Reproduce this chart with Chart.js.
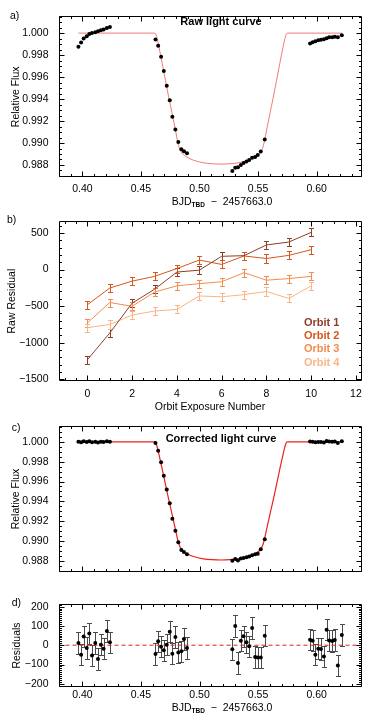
<!DOCTYPE html>
<html><head><meta charset="utf-8">
<script src="https://cdn.jsdelivr.net/npm/chart.js@4.4.1/dist/chart.umd.min.js"></script>
<style>
html,body{margin:0;padding:0;background:#fff;}
#wrap{position:relative;width:374px;height:720px;overflow:hidden;background:#fff;}
canvas{position:absolute;left:0;}
</style></head><body>
<div id="wrap">
<canvas id="ca" width="374" height="212" style="top:0px;width:374px;height:212px"></canvas>
<canvas id="cb" width="374" height="210" style="top:205px;width:374px;height:210px"></canvas>
<canvas id="cc" width="374" height="178" style="top:410px;width:374px;height:178px"></canvas>
<canvas id="cd" width="374" height="132" style="top:588px;width:374px;height:132px"></canvas>
</div>
<script>
// ---------------- DATA ----------------
const timeBJD = [
  0.3966, 0.3989, 0.4011, 0.4037, 0.4059, 0.4082, 0.4110, 0.4133, 0.4158, 0.4181, 0.4209, 0.4235,
  0.4624, 0.4647, 0.4672, 0.4695, 0.4720, 0.4746, 0.4768, 0.4794, 0.4819, 0.4845, 0.4867, 0.4893,
  0.5280, 0.5305, 0.5328, 0.5353, 0.5376, 0.5401, 0.5424, 0.5449, 0.5475, 0.5497, 0.5523, 0.5557,
  0.5944, 0.5966, 0.5989, 0.6014, 0.6037, 0.6062, 0.6085, 0.6107, 0.6133, 0.6155, 0.6181, 0.6215
];
const rawFlux = [
  0.99877, 0.99914, 0.99951, 0.99971, 0.99991, 1.00000, 1.00009, 1.00017, 1.00026, 1.00034, 1.00046, 1.00055,
  0.99943, 0.99885, 0.99785, 0.99656, 0.99521, 0.99389, 0.99239, 0.99124, 0.99010, 0.98944, 0.98924, 0.98906,
  0.98745, 0.98774, 0.98780, 0.98800, 0.98817, 0.98832, 0.98846, 0.98866, 0.98872, 0.98892, 0.98923, 0.99033,
  0.99905, 0.99917, 0.99925, 0.99934, 0.99940, 0.99945, 0.99954, 0.99963, 0.99963, 0.99966, 0.99963, 0.99980
];
const corrFlux = [
  1.00001, 0.99995, 1.00005, 0.99999, 1.00006, 0.99995, 1.00001, 0.99993, 1.00000, 0.99998, 1.00007, 1.00002,
  0.99988, 0.99910, 0.99794, 0.99658, 0.99519, 0.99380, 0.99223, 0.99104, 0.98988, 0.98910, 0.98890, 0.98867,
  0.98800, 0.98817, 0.98803, 0.98823, 0.98829, 0.98835, 0.98843, 0.98855, 0.98867, 0.98872, 0.98916, 0.99017,
  1.00003, 1.00002, 0.99995, 0.99998, 0.99998, 0.99994, 1.00008, 1.00003, 1.00002, 1.00003, 0.99989, 1.00005
];
const residuals = [
  12, -50, 45, -15, 61, -53, 12, -71, 3, -18, 74, 15,
  -46, 20, -8, -26, 2, 70, -44, 43, -38, -31, 32, -15,
  -21, 99, -92, 23, 46, 15, -6, 89, -61, -64, -64, 49,
  28, 23, -49, -18, -20, -59, 80, 25, 22, 27, -105, 53
];
const residErr = [
  55, 55, 55, 55, 55, 55, 55, 55, 55, 55, 55, 55,
  55, 55, 55, 55, 55, 55, 55, 55, 55, 55, 55, 55,
  55, 55, 55, 55, 55, 55, 55, 55, 55, 55, 55, 55,
  55, 55, 55, 55, 55, 55, 55, 55, 55, 55, 55, 55
];
const modelTime = [0.3966, 0.4619, 0.4633, 0.4653, 0.4681, 0.4709, 0.4737, 0.4766, 0.4794, 0.4814, 0.4831,
  0.4850, 0.4893, 0.4949, 0.5034, 0.5109, 0.5184, 0.5259, 0.5333, 0.5418, 0.5474, 0.5517, 0.5536, 0.5553,
  0.5573, 0.5601, 0.5630, 0.5658, 0.5686, 0.5714, 0.5734, 0.5748, 0.6215];
const modelFlux = [1.00000, 1.00000, 0.99971, 0.99877, 0.99727, 0.99572, 0.99417, 0.99268, 0.99119, 0.99010, 0.98946,
  0.98909, 0.98872, 0.98843, 0.98820, 0.98811, 0.98808, 0.98811, 0.98820, 0.98843, 0.98872, 0.98909, 0.98946, 0.99010,
  0.99119, 0.99268, 0.99417, 0.99572, 0.99727, 0.99877, 0.99971, 1.00000, 1.00000];

const exposureNum = [0, 1, 2, 3, 4, 5, 6, 7, 8, 9, 10];
const orbit1 = [-1232, -867, -459, -270, -35, -9, 180, 189, 335, 375, 506];
const orbit2 = [-481, -253, -159, -94, 13, 129, 69, 185, 150, 193, 270];
const orbit3 = [-730, -451, -502, -309, -223, -193, -167, -43, -146, -124, -94];
const orbit4 = [-794, -751, -622, -567, -545, -361, -373, -343, -300, -395, -223];
const orbitErr = [55, 55, 55, 55, 55, 55, 55, 55, 55, 55, 55];
const orbitNames = ['Orbit 1', 'Orbit 2', 'Orbit 3', 'Orbit 4'];

const timeTicks = [0.40, 0.45, 0.50, 0.55, 0.60];
const fluxTicks = [0.988, 0.990, 0.992, 0.994, 0.996, 0.998, 1.000];
const expTicks = [0, 2, 4, 6, 8, 10, 12];
const rawResTicks = [-1500, -1000, -500, 0, 500];
const residTicks = [-200, -100, 0, 100, 200];

// ---------------- STYLE ----------------
const FONT = "'Liberation Sans', Arial, Helvetica, sans-serif";
const orbitColors = ['#8e3d27', '#d5561e', '#f38c4e', '#f8b585'];
const TIME_MIN = 0.3796, TIME_MAX = 0.6383;

const minus = v => String(v).replace('-', '\u2212');
const pts = (xs, ys) => xs.map((x, i) => ({x: x, y: ys[i]}));

const framePlugin = {
  id: 'frame',
  afterDraw(chart, args, o) {
    const {ctx, chartArea: a} = chart;
    const xs = chart.scales.x, ys = chart.scales.y;
    const L = Math.round(a.left) + 0.5, R = Math.round(a.right) - 0.5;
    const T = Math.round(a.top) + 0.5, B = Math.round(a.bottom) - 0.5;
    ctx.save();
    ctx.strokeStyle = '#000'; ctx.lineWidth = 1;
    ctx.beginPath();
    ctx.rect(L, T, R - L, B - T);
    const xt = (v, len) => { const p = Math.round(xs.getPixelForValue(v)) + 0.5; if (p < L - 0.2 || p > R + 0.2) return;
      ctx.moveTo(p, B); ctx.lineTo(p, B - len); ctx.moveTo(p, T); ctx.lineTo(p, T + len); };
    const yt = (v, len) => { const p = Math.round(ys.getPixelForValue(v)) + 0.5; if (p < T - 0.2 || p > B + 0.2) return;
      ctx.moveTo(L, p); ctx.lineTo(L + len, p); ctx.moveTo(R, p); ctx.lineTo(R - len, p); };
    for (let k = Math.ceil(xs.min / o.xMinor - 1e-9); k * o.xMinor <= xs.max + 1e-12; k++) xt(k * o.xMinor, o.minorLen);
    for (let k = Math.ceil(ys.min / o.yMinor - 1e-9); k * o.yMinor <= ys.max + 1e-12; k++) yt(k * o.yMinor, o.minorLen);
    xs.ticks.forEach(t => xt(t.value, o.majorLen));
    ys.ticks.forEach(t => yt(t.value, o.majorLen));
    ctx.stroke();
    ctx.restore();
  }
};

const errPlugin = {
  id: 'errBars',
  beforeDatasetsDraw(chart) {
    const {ctx} = chart; const ys = chart.scales.y;
    chart.data.datasets.forEach((ds, i) => {
      if (!ds.errors) return;
      const meta = chart.getDatasetMeta(i);
      ctx.save();
      ctx.strokeStyle = ds.errorColor || ds.borderColor; ctx.lineWidth = 1;
      ctx.beginPath();
      const cap = ds.capWidth || 2.5;
      meta.data.forEach((el, j) => {
        const v = ds.data[j].y, e = ds.errors[j];
        const x = Math.round(el.x) + 0.5;
        const y1 = Math.round(ys.getPixelForValue(v - e)) + 0.5, y2 = Math.round(ys.getPixelForValue(v + e)) + 0.5;
        ctx.moveTo(x, y1); ctx.lineTo(x, y2);
        ctx.moveTo(x - cap, y1); ctx.lineTo(x + cap, y1);
        ctx.moveTo(x - cap, y2); ctx.lineTo(x + cap, y2);
      });
      ctx.stroke();
      ctx.restore();
    });
  }
};

const textPlugin = {
  id: 'texts',
  afterDraw(chart, args, o) {
    const ctx = chart.ctx;
    (o.items || []).forEach(it => {
      ctx.save();
      ctx.textBaseline = 'middle';
      ctx.fillStyle = it.color || '#000';
      if (it.parts) {
        let w = 0;
        it.parts.forEach(p => { ctx.font = p.font; w += ctx.measureText(p.text).width; });
        let x = it.align === 'center' ? it.x - w / 2 : it.x;
        ctx.textAlign = 'left';
        it.parts.forEach(p => { ctx.font = p.font; ctx.fillText(p.text, x, it.y + (p.dy || 0)); x += ctx.measureText(p.text).width; });
      } else {
        ctx.font = it.font; ctx.textAlign = it.align || 'left';
        ctx.fillText(it.text, it.x, it.y);
      }
      ctx.restore();
    });
  }
};

Chart.register(framePlugin, errPlugin, textPlugin);

const tickFont = {family: FONT, size: 10.5};
const titleFont = {family: FONT, size: 10.5};
const labFont = '10.5px ' + FONT;
const boldFont = 'bold 11px ' + FONT;

function bjdTitle(y) {
  return {x: 222, y: y, align: 'center', parts: [
    {text: 'BJD', font: '10.5px ' + FONT},
    {text: 'TBD', font: 'bold 6.5px ' + FONT, dy: 3},
    {text: '  \u2212  2457663.0', font: '10.5px ' + FONT}
  ]};
}

function xAxis(min, max, tickVals, fmt, height, pad, showLabels, title) {
  return {
    type: 'linear', min: min, max: max,
    grid: {display: false, drawTicks: false}, border: {display: false},
    afterBuildTicks: s => { s.ticks = tickVals.map(v => ({value: v})); },
    afterFit: s => { s.height = height; },
    ticks: {display: showLabels, padding: pad, font: tickFont, color: '#000', maxRotation: 0, autoSkip: false, callback: fmt},
    title: title || {display: false}
  };
}
function yAxis(min, max, tickVals, fmt, titleText, titlePad) {
  return {
    type: 'linear', min: min, max: max,
    grid: {display: false, drawTicks: false}, border: {display: false},
    afterBuildTicks: s => { s.ticks = tickVals.map(v => ({value: v})); },
    afterFit: s => { s.width = 58.5; },
    ticks: {padding: 10, font: tickFont, color: '#000', autoSkip: false, callback: fmt},
    title: {display: true, text: titleText, font: titleFont, color: '#000', padding: {top: titlePad, bottom: 0}}
  };
}
const common = {
  responsive: false, animation: false, devicePixelRatio: 1,
  events: []
};

// ---------- Panel a ----------
new Chart(document.getElementById('ca'), {
  type: 'line',
  data: {datasets: [
    {data: pts(timeBJD, rawFlux), showLine: false, pointRadius: 2, pointBackgroundColor: '#000', pointBorderWidth: 0},
    {data: pts(modelTime, modelFlux), borderColor: '#f27a76', borderWidth: 1, pointRadius: 0, cubicInterpolationMode: 'monotone'}
  ]},
  options: Object.assign({}, common, {
    layout: {padding: {top: 7.3, right: 12.5, left: 0, bottom: 0}},
    scales: {
      x: xAxis(TIME_MIN, TIME_MAX, timeTicks, v => v.toFixed(2), 34.7, 5.5, true),
      y: yAxis(0.98688, 1.00153, fluxTicks, v => v.toFixed(3), 'Relative Flux', 9.7)
    },
    plugins: {
      legend: {display: false}, tooltip: {enabled: false},
      frame: {xMinor: 0.01, yMinor: 0.0005, majorLen: 5, minorLen: 2.5},
      texts: {items: [
        {text: 'a)', x: 10, y: 16.5, font: labFont},
        {text: 'Raw light curve', x: 221, y: 22, font: boldFont, align: 'center'},
        bjdTitle(202.3)
      ]}
    }
  })
});

// ---------- Panel b ----------
const orbitSeries = [orbit1, orbit2, orbit3, orbit4];
new Chart(document.getElementById('cb'), {
  type: 'line',
  data: {datasets: orbitSeries.map((s, i) => ({
    data: pts(exposureNum, s), errors: orbitErr, borderColor: orbitColors[i], borderWidth: 1,
    pointRadius: 0, tension: 0, capWidth: 2.5
  }))},
  options: Object.assign({}, common, {
    layout: {padding: {top: 6.7, right: 12.5, left: 0, bottom: 0}},
    scales: {
      x: xAxis(-1.29, 12.25, expTicks, v => String(v), 34, 6.5, true,
        {display: true, text: 'Orbit Exposure Number', font: titleFont, color: '#000', padding: {top: 0, bottom: 2}}),
      y: yAxis(-1522, 658, rawResTicks, v => minus(v), 'Raw Residual', 5.4)
    },
    plugins: {
      legend: {display: false}, tooltip: {enabled: false},
      frame: {xMinor: 0.5, yMinor: 100, majorLen: 5, minorLen: 2.5},
      texts: {items: [
        {text: 'b)', x: 7, y: 15.5, font: labFont},
        {text: orbitNames[0], x: 304, y: 118.3, font: boldFont, color: orbitColors[0]},
        {text: orbitNames[1], x: 304, y: 131.0, font: boldFont, color: orbitColors[1]},
        {text: orbitNames[2], x: 304, y: 144.3, font: boldFont, color: orbitColors[2]},
        {text: orbitNames[3], x: 304, y: 157.7, font: boldFont, color: orbitColors[3]}
      ]}
    }
  })
});

// ---------- Panel c ----------
new Chart(document.getElementById('cc'), {
  type: 'line',
  data: {datasets: [
    {data: pts(timeBJD, corrFlux), showLine: false, pointRadius: 2, pointBackgroundColor: '#000', pointBorderWidth: 0},
    {data: pts(modelTime, modelFlux), borderColor: '#e8231c', borderWidth: 1.2, pointRadius: 0, cubicInterpolationMode: 'monotone'}
  ]},
  options: Object.assign({}, common, {
    layout: {padding: {top: 8.3, right: 12.5, left: 0, bottom: 0}},
    scales: {
      x: xAxis(TIME_MIN, TIME_MAX, timeTicks, v => v.toFixed(2), 1, 0, false),
      y: yAxis(0.98690, 1.00157, fluxTicks, v => v.toFixed(3), 'Relative Flux', 10)
    },
    plugins: {
      legend: {display: false}, tooltip: {enabled: false},
      frame: {xMinor: 0.01, yMinor: 0.0005, majorLen: 5, minorLen: 2.5},
      texts: {items: [
        {text: 'c)', x: 11.7, y: 18, font: labFont},
        {text: 'Corrected light curve', x: 221, y: 28.7, font: boldFont, align: 'center'}
      ]}
    }
  })
});

// ---------- Panel d ----------
new Chart(document.getElementById('cd'), {
  type: 'line',
  data: {datasets: [
    {data: pts(timeBJD, residuals), errors: residErr, errorColor: '#4a4a4a', capWidth: 2.5, showLine: false,
     pointRadius: 2, pointBackgroundColor: '#000', pointBorderWidth: 0, borderColor: '#000'},
    {data: [{x: TIME_MIN, y: 0}, {x: TIME_MAX, y: 0}], borderColor: '#e0201c', borderWidth: 1, borderDash: [4, 3], pointRadius: 0}
  ]},
  options: Object.assign({}, common, {
    layout: {padding: {top: 5.3, right: 12.5, left: 0, bottom: 0}},
    scales: {
      x: xAxis(TIME_MIN, TIME_MAX, timeTicks, v => v.toFixed(2), 33.3, 2.5, true),
      y: yAxis(-215, 212, residTicks, v => minus(v), 'Residuals', 10.4)
    },
    plugins: {
      legend: {display: false}, tooltip: {enabled: false},
      frame: {xMinor: 0.01, yMinor: 10, majorLen: 5, minorLen: 2.5},
      texts: {items: [
        {text: 'd)', x: 11.7, y: 15.5, font: labFont},
        bjdTitle(120)
      ]}
    }
  })
});
</script>
</body></html>
